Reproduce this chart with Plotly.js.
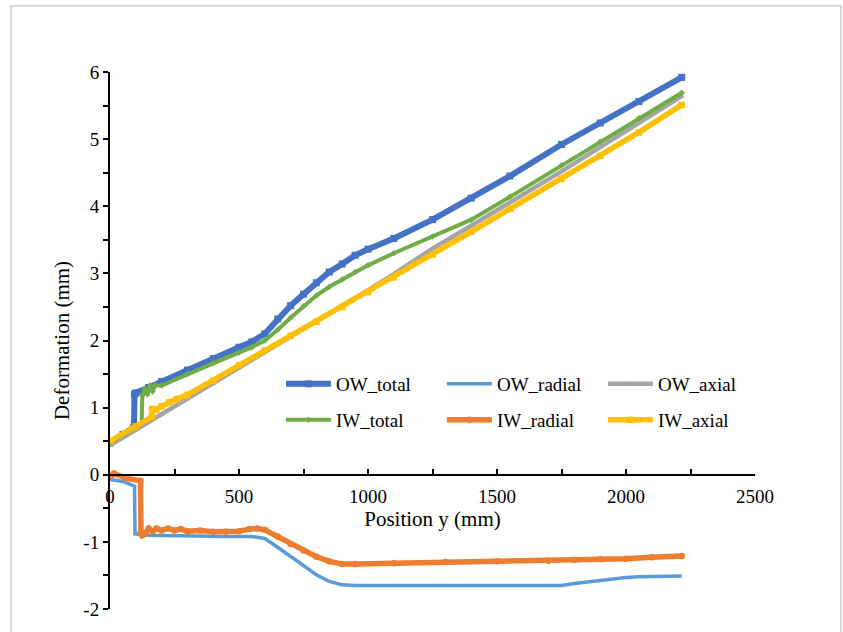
<!DOCTYPE html>
<html>
<head>
<meta charset="utf-8">
<script src="https://cdn.plot.ly/plotly-3.0.1.min.js"></script>
<style>
  html, body { margin: 0; padding: 0; background: #ffffff; }
</style>
</head>
<body>
<div id="chart"></div>
<script>
// ---- Data ----
const owTotalX = [0, 50, 93, 95, 100, 150, 200, 300, 400, 500, 550, 600, 650, 700, 750, 800, 850, 900, 950, 1000, 1100, 1250, 1400, 1550, 1750, 1900, 2050, 2216];
const owTotalY = [0.47, 0.60, 0.71, 1.20, 1.22, 1.30, 1.39, 1.56, 1.73, 1.90, 1.98, 2.10, 2.32, 2.52, 2.69, 2.86, 3.02, 3.14, 3.27, 3.36, 3.52, 3.80, 4.12, 4.45, 4.92, 5.24, 5.56, 5.92];

const owRadialX = [0, 50, 95, 97, 150, 250, 350, 450, 550, 600, 650, 700, 750, 800, 850, 900, 950, 1100, 1300, 1500, 1700, 1750, 1800, 1900, 2000, 2050, 2216];
const owRadialY = [-0.07, -0.10, -0.17, -0.88, -0.90, -0.91, -0.92, -0.92, -0.92, -0.95, -1.08, -1.22, -1.36, -1.49, -1.59, -1.64, -1.65, -1.65, -1.65, -1.65, -1.65, -1.65, -1.62, -1.57, -1.53, -1.52, -1.51];

const owAxialX = [0, 100, 200, 300, 400, 500, 600, 700, 800, 900, 1000, 1100, 1250, 1400, 1550, 1750, 1900, 2050, 2216];
const owAxialY = [0.44, 0.67, 0.90, 1.13, 1.36, 1.59, 1.82, 2.05, 2.28, 2.51, 2.75, 2.99, 3.37, 3.71, 4.05, 4.52, 4.88, 5.25, 5.64];

const iwTotalX = [0, 60, 123, 125, 135, 145, 155, 165, 175, 200, 300, 400, 500, 550, 600, 650, 700, 750, 800, 850, 900, 950, 1000, 1100, 1250, 1400, 1550, 1750, 1900, 2050, 2216];
const iwTotalY = [0.47, 0.62, 0.78, 1.18, 1.28, 1.20, 1.33, 1.24, 1.33, 1.33, 1.50, 1.66, 1.82, 1.90, 2.00, 2.16, 2.34, 2.51, 2.67, 2.80, 2.91, 3.02, 3.12, 3.30, 3.55, 3.80, 4.14, 4.61, 4.96, 5.31, 5.69];

const iwRadialX = [5, 15, 60, 118, 120, 125, 135, 150, 165, 180, 200, 225, 250, 275, 300, 350, 400, 450, 500, 540, 570, 600, 650, 700, 750, 800, 850, 900, 950, 1100, 1300, 1500, 1700, 1800, 1900, 2000, 2100, 2216];
const iwRadialY = [-0.02, 0.02, -0.05, -0.09, -0.85, -0.90, -0.88, -0.80, -0.84, -0.80, -0.83, -0.80, -0.83, -0.81, -0.84, -0.83, -0.85, -0.85, -0.84, -0.81, -0.80, -0.82, -0.92, -1.03, -1.13, -1.22, -1.29, -1.33, -1.33, -1.32, -1.30, -1.29, -1.28, -1.27, -1.26, -1.25, -1.23, -1.21];

const iwAxialX = [0, 100, 161, 163, 180, 200, 230, 260, 300, 400, 500, 600, 700, 800, 900, 1000, 1100, 1250, 1400, 1550, 1750, 1900, 2050, 2216];
const iwAxialY = [0.50, 0.72, 0.86, 0.98, 0.97, 1.02, 1.08, 1.13, 1.19, 1.40, 1.63, 1.85, 2.07, 2.28, 2.50, 2.72, 2.94, 3.28, 3.62, 3.96, 4.41, 4.75, 5.10, 5.51];

const seriesNames = ["OW_total", "OW_radial", "OW_axial", "IW_total", "IW_radial", "IW_axial"];
const xTickVals = [0, 500, 1000, 1500, 2000, 2500];
const yTickVals = [-2, -1, 0, 1, 2, 3, 4, 5, 6];
const yTickText = ["-2", "-1", "0", "1", "2", "3", "4", "5", "6"];

const serifFont = "Liberation Serif";

const traces = [
  {x: owTotalX, y: owTotalY, name: seriesNames[0], mode: "lines+markers",
   line: {color: "#4472C4", width: 6}, marker: {symbol: "square", size: 7, color: "#4472C4"}, legend: "legend"},
  {x: owRadialX, y: owRadialY, name: seriesNames[1], mode: "lines",
   line: {color: "#5B9BD5", width: 3.5}, legend: "legend"},
  {x: owAxialX, y: owAxialY, name: seriesNames[2], mode: "lines+markers",
   line: {color: "#A5A5A5", width: 4.5}, marker: {symbol: "triangle-up", size: 5, color: "#A5A5A5"}, legend: "legend"},
  {x: iwTotalX, y: iwTotalY, name: seriesNames[3], mode: "lines+markers",
   line: {color: "#70AD47", width: 4}, marker: {symbol: "diamond", size: 5, color: "#70AD47"}, legend: "legend2"},
  {x: iwRadialX, y: iwRadialY, name: seriesNames[4], mode: "lines+markers",
   line: {color: "#ED7D31", width: 5.5}, marker: {symbol: "circle", size: 6.5, color: "#ED7D31"}, legend: "legend2"},
  {x: iwAxialX, y: iwAxialY, name: seriesNames[5], mode: "lines+markers",
   line: {color: "#FFC000", width: 5.5}, marker: {symbol: "square", size: 6.5, color: "#FFC000"}, legend: "legend2"}
];

function legendOpts(yPos) {
  return {
    orientation: "h", xanchor: "left", yanchor: "middle", x: 0.265, y: yPos,
    font: {family: serifFont, size: 19, color: "#000000"},
    bgcolor: "rgba(0,0,0,0)", borderwidth: 0,
    entrywidth: 101, entrywidthmode: "pixels", itemwidth: 45
  };
}

const layout = {
  width: 843, height: 632,
  margin: {l: 110, r: 88, t: 72, b: 23},
  paper_bgcolor: "#ffffff", plot_bgcolor: "#ffffff",
  font: {family: serifFont, size: 19, color: "#000000"},
  showlegend: true,
  xaxis: {
    range: [0, 2500], anchor: "free", position: 0.25,
    tickvals: xTickVals, ticks: "inside", ticklen: 5, tickwidth: 1.5, tickcolor: "#000000",
    minor: {dtick: 250, tick0: 0, ticks: "inside", ticklen: 5, tickwidth: 1.5, tickcolor: "#000000"},
    showline: true, linecolor: "#000000", linewidth: 2,
    showgrid: false, zeroline: false,
    tickfont: {family: serifFont, size: 19, color: "#000000"},
    ticklabelstandoff: 4,
    title: {text: "Position y (mm)", font: {family: serifFont, size: 21, color: "#000000"}, standoff: 4},
    automargin: false
  },
  yaxis: {
    range: [-2, 6],
    tickvals: yTickVals, ticktext: yTickText, ticks: "outside", ticklen: 5, tickwidth: 1.5, tickcolor: "#000000",
    minor: {dtick: 0.5, tick0: 0, ticks: "outside", ticklen: 5, tickwidth: 1.5, tickcolor: "#000000"},
    showline: true, linecolor: "#000000", linewidth: 2,
    showgrid: false, zeroline: false,
    tickfont: {family: serifFont, size: 19, color: "#000000"},
    title: {text: "Deformation (mm)", font: {family: serifFont, size: 21, color: "#000000"}, standoff: 8},
    automargin: false
  },
  legend: legendOpts(0.419),
  legend2: legendOpts(0.352),
  shapes: [
    {type: "rect", xref: "paper", yref: "paper",
     x0: (11 - 110) / 645, x1: (841 - 110) / 645,
     y0: (609 - 640) / 537, y1: (609 - 6) / 537,
     line: {color: "#D9D9D9", width: 2}, fillcolor: "rgba(0,0,0,0)", layer: "below"}
  ]
};

Plotly.newPlot("chart", traces, layout, {displayModeBar: false});
</script>
</body>
</html>
